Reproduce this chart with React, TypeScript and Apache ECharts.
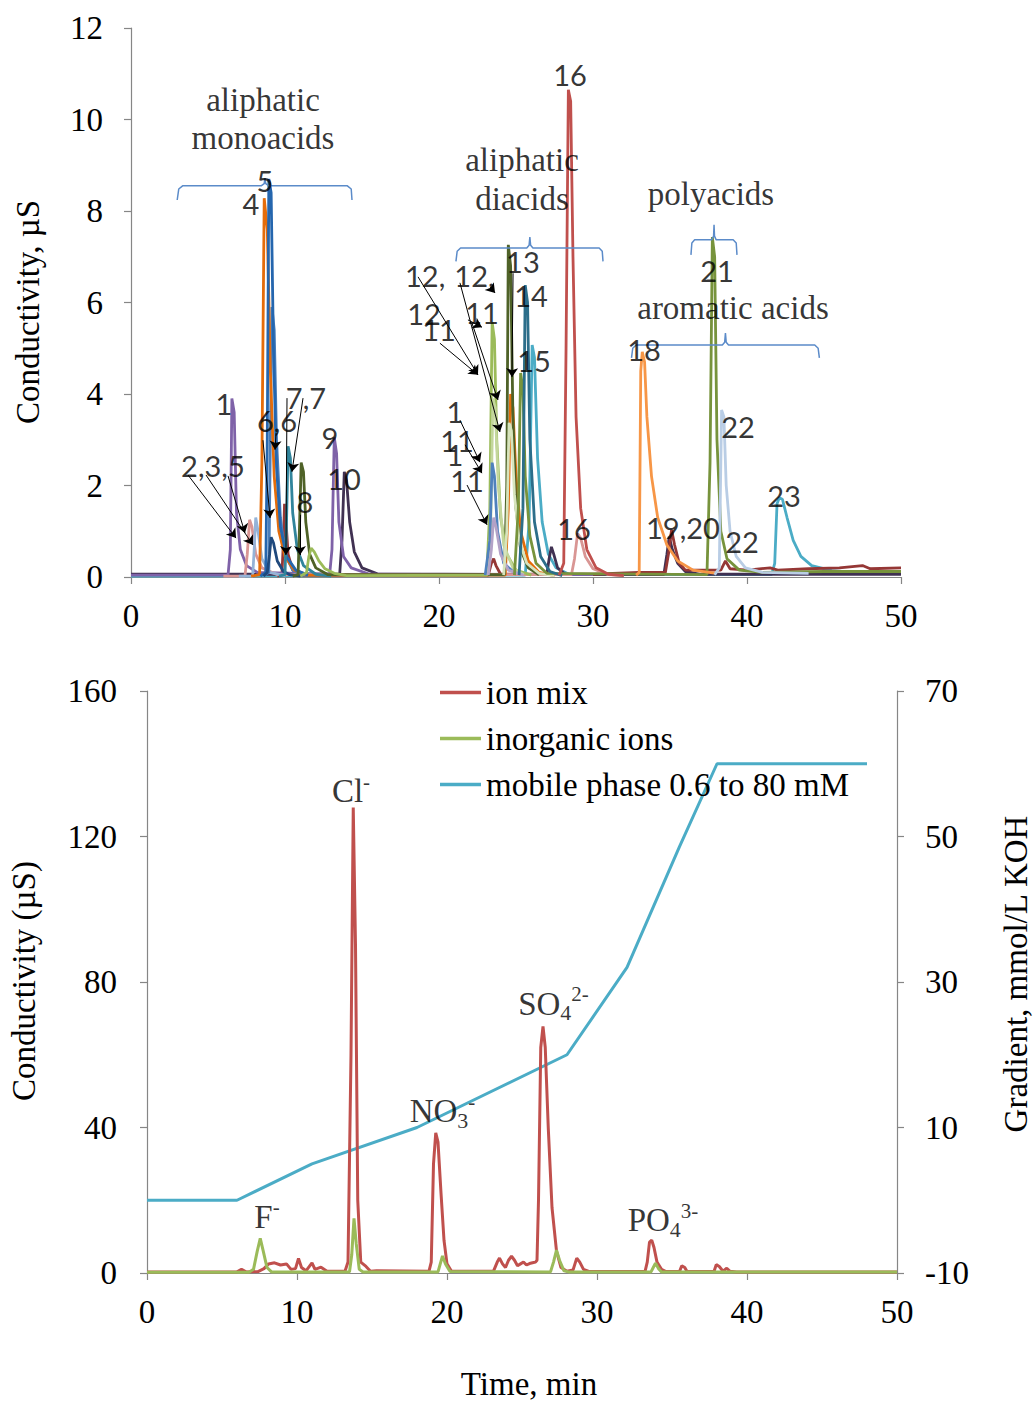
import React, { useEffect, useRef } from "react";
import * as echarts from "echarts";

const SERIF = "'Liberation Serif', 'Times New Roman', serif";
const SANS = "Lato, 'Liberation Sans', sans-serif";

// ---------- Top chart: chromatograms (time min, conductivity µS) ----------
const purpleTrace = [[0,0.04],[6.3,0.04],[6.45,0.6],[6.55,3.9],[6.7,3.6],[6.85,1.4],[7.1,0.6],[7.5,0.25],[8.2,0.1],[12.9,0.06],[13.05,0.6],[13.2,3.05],[13.35,2.7],[13.5,1.2],[13.8,0.45],[14.3,0.2],[15.5,0.06],[23,0.05],[30,0.05]];
const pinkTrace = [[6,0.02],[7.4,0.02],[7.55,0.5],[7.7,1.25],[7.85,1.1],[8.1,0.5],[8.5,0.2],[9.5,0.05],[28.6,0.05],[28.8,0.4],[29.0,0.95],[29.2,0.85],[29.5,0.45],[30,0.18],[31,0.05],[32,0.03]];
const lightBlueTrace = [[7,0.02],[7.9,0.02],[8.0,0.6],[8.1,1.3],[8.25,1.0],[8.5,0.4],[9,0.1],[10,0.03]];
const orangeTrace = [[7.8,0.02],[8.35,0.05],[8.5,2.5],[8.65,8.28],[8.85,7.6],[9.05,4.5],[9.3,2.2],[9.6,1.0],[10.0,0.45],[10.6,0.15],[11.5,0.04],[24.3,0.04],[24.5,1.5],[24.65,4.0],[24.8,3.7],[25.0,2.2],[25.3,1.0],[25.8,0.35],[26.5,0.1],[27.5,0.03]];
const blueTrace = [[8.4,0.02],[8.75,0.1],[8.85,3],[8.95,8.7],[9.1,8.4],[9.25,5],[9.45,2.4],[9.7,1.1],[10.1,0.45],[10.7,0.15],[11.5,0.04]];
const blue2Trace = [[8.6,0.02],[8.95,0.1],[9.05,3],[9.15,5.9],[9.3,5.4],[9.45,3],[9.7,1.3],[10.0,0.5],[10.5,0.15],[11.2,0.03]];
const navyTrace = [[8.6,0.02],[8.85,0.1],[9.0,0.5],[9.1,0.87],[9.25,0.75],[9.5,0.35],[9.9,0.12],[10.3,0.05],[11,0.02]];
const tealTrace = [[9.6,0.02],[10.0,0.05],[10.1,1.2],[10.2,2.86],[10.35,2.6],[10.5,1.4],[10.8,0.6],[11.2,0.25],[12,0.06],[13,0.02]];
const maroonTrace = [[9.5,0.02],[9.8,0.05],[9.9,0.8],[9.97,1.6],[10.05,1.3],[10.2,0.5],[10.5,0.15],[11,0.04],[23.2,0.04],[23.4,0.3],[23.55,0.4],[23.7,0.25],[24,0.06],[30,0.06],[33,0.1],[34.7,0.1],[34.9,0.5],[35.1,1.03],[35.3,0.7],[35.6,0.3],[36,0.15],[38.3,0.15],[38.6,0.35],[38.9,0.18],[40,0.15],[41.5,0.2],[42,0.15],[44,0.18],[46,0.2],[47.5,0.25],[48,0.18],[50,0.2]];
const oliveTrace = [[10.5,0.02],[10.85,0.05],[10.95,1.2],[11.05,2.5],[11.2,2.3],[11.35,1.2],[11.6,0.5],[12,0.2],[12.8,0.05],[24.25,0.05],[24.4,2],[24.5,7.26],[24.65,6.8],[24.8,3.5],[25.0,1.5],[25.3,0.6],[25.8,0.2],[26.5,0.05]];
const limeTrace = [[11,0.02],[11.4,0.1],[11.55,0.45],[11.7,0.63],[11.9,0.55],[12.2,0.35],[12.6,0.18],[13.2,0.08],[14,0.03],[23.1,0.04],[23.3,1.5],[23.45,5.57],[23.6,5.2],[23.75,3],[24,1.3],[24.4,0.5],[25,0.15],[26,0.04]];
const plumTrace = [[0,0.06],[13.55,0.06],[13.7,0.8],[13.85,2.3],[14.0,2.1],[14.2,1.2],[14.5,0.55],[15,0.2],[16,0.07],[27.0,0.05],[27.15,0.4],[27.3,0.66],[27.45,0.5],[27.7,0.2],[28.2,0.06],[34.6,0.05],[34.8,0.5],[34.95,0.88],[35.15,0.6],[35.5,0.3],[36,0.12],[37,0.06],[50,0.06]];
const grassTrace = [[24.9,0.04],[25.15,1.5],[25.3,4.46],[25.45,4.1],[25.6,2.2],[25.9,0.9],[26.3,0.3],[27,0.08],[37.4,0.05],[37.6,2.5],[37.75,7.43],[37.9,7.0],[38.05,3],[38.3,1.0],[38.7,0.4],[39.5,0.15],[41,0.1],[45,0.12],[50,0.12]];
const paleGreenTrace = [[23.1,0.04],[23.35,1],[23.5,3.9],[23.65,3.7],[23.85,2],[24.2,0.7],[24.8,0.2],[25.5,0.05]];
const steelTrace = [[23.0,0.04],[23.3,0.8],[23.45,2.5],[23.6,2.2],[23.8,1.0],[24.2,0.3],[25,0.06]];
const lavenderTrace = [[23.2,0.04],[23.4,0.6],[23.55,1.3],[23.7,1.1],[24,0.5],[24.5,0.15],[25.5,0.04]];
const creamTrace = [[24.2,0.04],[24.4,1],[24.55,3.37],[24.7,3.2],[24.9,1.8],[25.2,0.8],[25.7,0.3],[26.5,0.08],[27.5,0.03]];
const petrolTrace = [[25.2,0.04],[25.45,1.5],[25.6,6.38],[25.75,6.0],[25.9,3],[26.2,1.2],[26.6,0.45],[27.2,0.12],[28,0.03]];
const aquaTrace = [[0,0.02],[25.6,0.04],[25.85,1.2],[26.05,5.07],[26.2,4.8],[26.4,2.6],[26.7,1.2],[27.1,0.5],[27.6,0.2],[28.5,0.05],[41.6,0.05],[41.8,0.3],[41.95,1.6],[42.1,1.73],[42.3,1.7],[42.6,1.3],[43,0.8],[43.5,0.45],[44.2,0.25],[45.5,0.14],[47,0.1],[50,0.08]];
const redTrace = [[27.8,0.04],[28.1,0.3],[28.25,5],[28.4,10.65],[28.55,10.4],[28.7,7],[28.9,3.5],[29.2,1.5],[29.6,0.6],[30.2,0.2],[31,0.06],[32,0.03]];
const tangerineTrace = [[32.8,0.04],[33.0,0.1],[33.1,4.5],[33.2,4.92],[33.35,4.7],[33.5,3.5],[33.8,2.2],[34.2,1.3],[34.8,0.7],[35.5,0.35],[36.5,0.15],[38,0.08]];
const silverTrace = [[37.9,0.05],[38.2,0.2],[38.35,3.65],[38.5,3.5],[38.65,2],[38.9,1],[39.3,0.45],[39.9,0.2],[41,0.1],[44,0.08]];

const topTraces: [number[][], string][] = [
  [aquaTrace, "#4BACC6"], [plumTrace, "#403152"], [maroonTrace, "#953735"],
  [purpleTrace, "#7F62A8"], [pinkTrace, "#D99694"], [lightBlueTrace, "#95B3D7"],
  [blue2Trace, "#4A7EBB"], [orangeTrace, "#E46C0A"], [blueTrace, "#2566AE"],
  [navyTrace, "#1F497D"], [tealTrace, "#31859C"], [oliveTrace, "#4F6228"],
  [limeTrace, "#9BBB59"], [paleGreenTrace, "#C3D69B"], [steelTrace, "#4F81BD"],
  [lavenderTrace, "#B3A2C7"], [creamTrace, "#D7E4BD"], [grassTrace, "#77933C"],
  [petrolTrace, "#2C6E8A"], [redTrace, "#C0504D"], [tangerineTrace, "#F79646"],
  [silverTrace, "#B9CDE5"],
];

// Peak number labels [text, time, µS]
const peakLabels: [string, number, number][] = [
  ["16", 28.51, 10.99], ["5", 8.7, 8.66], ["4", 7.79, 8.17], ["13", 25.45, 6.89],
  ["21", 38.05, 6.71], ["12,", 19.1, 6.58], ["12,", 22.3, 6.58], ["14", 25.97, 6.16],
  ["11", 22.79, 5.79], ["12", 19.03, 5.77], ["11", 20.0, 5.4], ["15", 26.17, 4.74],
  ["18", 33.31, 4.98], ["22", 39.42, 3.28], ["1", 6.04, 3.8], ["7,7", 11.36, 3.93],
  ["6,6", 9.48, 3.41], ["9", 12.92, 3.06], ["1", 21.04, 3.61], ["11", 21.17, 2.99],
  ["1", 21.04, 2.67], ["11", 21.82, 2.12], ["2,3,5", 5.32, 2.43], ["10", 13.83, 2.16],
  ["23", 42.4, 1.79], ["8", 11.3, 1.64], ["16", 28.77, 1.07], ["19,20", 35.84, 1.09],
  ["22", 39.68, 0.77],
];

// Group labels
const groupLabels: [string, number, number][] = [
  ["aliphatic", 8.57, 10.43], ["monoacids", 8.57, 9.6], ["aliphatic", 25.39, 9.11],
  ["diacids", 25.39, 8.26], ["polyacids", 37.66, 8.37], ["aromatic acids", 39.09, 5.88],
];

// Arrows [t1, y1, t2, y2]
const arrows: number[][] = [
  [3.7, 2.23, 6.82, 0.85], [4.87, 2.23, 7.92, 0.7], [6.3, 2.21, 7.4, 0.96],
  [8.57, 2.99, 9.03, 1.29], [9.42, 3.15, 9.35, 2.78], [10.13, 3.91, 10.06, 0.48],
  [11.17, 3.91, 10.45, 2.3], [10.97, 1.36, 10.97, 0.48],
  [18.64, 6.56, 22.53, 4.42], [21.36, 6.43, 23.96, 3.17], [23.31, 6.34, 23.64, 6.21],
  [21.88, 5.62, 22.79, 5.46], [22.14, 5.55, 23.83, 3.87], [20.06, 5.11, 22.53, 4.42],
  [24.81, 6.64, 24.74, 4.37], [21.36, 3.43, 22.66, 2.51], [21.69, 2.89, 22.79, 2.27],
  [21.82, 2.01, 23.12, 1.14],
];

// Braces
const braceMono = [[3.0,8.24],[3.1,8.48],[3.35,8.55],[8.45,8.55],[8.65,8.6],[8.7,8.72],[8.75,8.6],[8.95,8.55],[14.05,8.55],[14.3,8.48],[14.35,8.24]];
const braceDi = [[21.1,6.9],[21.18,7.12],[21.4,7.19],[25.7,7.19],[25.85,7.25],[25.9,7.43],[25.95,7.25],[26.1,7.19],[30.4,7.19],[30.6,7.12],[30.65,6.9]];
const bracePoly = [[36.36,7.04],[36.42,7.3],[36.6,7.37],[37.7,7.37],[37.83,7.45],[37.86,7.7],[37.89,7.45],[38.0,7.37],[39.1,7.37],[39.3,7.3],[39.35,7.04]];
const braceArom = [[32.5,4.79],[32.58,5.0],[32.8,5.07],[38.4,5.07],[38.55,5.13],[38.6,5.33],[38.65,5.13],[38.8,5.07],[44.4,5.07],[44.62,5.0],[44.7,4.79]];

// ---------- Bottom chart ----------
const ionMix = [[0,0.3],[6,0.3],[6.3,1],[6.6,0.3],[7.4,0.4],[7.8,1.2],[8.1,2.5],[8.5,2.8],[8.9,2.2],[9.3,2.5],[9.6,1],[9.9,1.2],[10.1,4],[10.3,1.5],[10.6,0.6],[11.0,2.8],[11.2,1.0],[11.6,1.6],[12,0.5],[13.2,0.5],[13.4,3],[13.6,60],[13.75,128],[13.9,90],[14.05,20],[14.25,3],[14.6,1.8],[14.9,0.5],[15.3,0.6],[18.8,0.5],[18.95,3],[19.1,30],[19.25,38.5],[19.4,36],[19.6,22],[19.8,9],[20.0,2.5],[20.3,0.5],[23.1,0.5],[23.35,3],[23.5,4.1],[23.7,2.5],[23.9,1.5],[24.1,3.5],[24.3,4.6],[24.5,3.5],[24.7,2],[24.9,2.5],[25.1,3],[25.3,2.2],[25.5,2.6],[25.7,2.8],[25.9,3],[26.0,3.5],[26.1,20],[26.25,62],[26.4,67.8],[26.55,62],[26.75,40],[27.0,18],[27.3,6],[27.6,1.5],[28.0,0.5],[28.4,0.8],[28.65,4.1],[28.85,3],[29.1,1],[29.5,0.4],[33.2,0.4],[33.35,3],[33.5,8.5],[33.65,9],[33.8,7],[34.0,3],[34.3,1],[34.6,0.4],[35.5,0.4],[35.65,2],[35.85,1.5],[36.0,0.4],[37.8,0.4],[37.95,2.3],[38.15,1.8],[38.4,0.5],[38.65,1.3],[38.85,0.5],[39.3,0.3],[50,0.3]];
const inorganicIons = [[0,0.2],[6.8,0.2],[7.1,1],[7.35,6],[7.55,9.5],[7.75,6],[8.0,1.5],[8.3,0.3],[13.5,0.3],[13.65,5],[13.8,15],[13.95,8],[14.15,1],[14.4,0.3],[19.4,0.3],[19.55,2.5],[19.7,4.7],[19.9,2.5],[20.2,0.4],[26.9,0.3],[27.1,3],[27.3,6.3],[27.5,3.5],[27.8,0.6],[28.1,0.3],[33.6,0.3],[33.75,1.5],[33.9,2.7],[34.1,1.2],[34.3,0.3],[50,0.3]];
const mobilePhase = [[0,0],[6,0],[11,5],[18,10],[28,20],[32,32],[35.5,48.6],[38,60],[48,60]];

const ionLabels: [string, number, number][] = [
  ["{b|Cl}{sup|-}", 13.6, 132.5],
  ["{b|NO}{sub|3}{sup|-}", 19.7, 44.5],
  ["{b|SO}{sub|4}{sup|2-}", 27.1, 74],
  ["{b|F}{sup|-}", 8.0, 15.5],
  ["{b|PO}{sub|4}{sup|3-}", 34.4, 14.5],
];

const seriesNames = ["ion mix", "inorganic ions", "mobile phase 0.6 to 80 mM"];

function buildOption() {
  const axisLineStyle = { color: "#868686", width: 1.2 };
  const labelBase = { fontFamily: SERIF, fontSize: 33, color: "#000" };

  const series: any[] = [];
  topTraces.forEach(([data, color], i) => {
    series.push({
      type: "line", xAxisIndex: 0, yAxisIndex: 0, data, symbol: "none",
      lineStyle: { color, width: 2.8 }, itemStyle: { color }, silent: true, z: 2 + i * 0.01,
      name: "top" + i,
    });
  });
  [braceMono, braceDi, bracePoly, braceArom].forEach((b, i) => {
    series.push({
      type: "line", xAxisIndex: 0, yAxisIndex: 0, data: b, symbol: "none", silent: true,
      lineStyle: { color: "#5B8BC9", width: 1.5 }, z: 3, name: "brace" + i,
    });
  });
  series.push({
    type: "line", xAxisIndex: 0, yAxisIndex: 0, data: [], symbol: "none", silent: true, z: 5,
    name: "arrows",
    markLine: {
      silent: true, symbol: ["none", "arrow"], symbolSize: 9,
      lineStyle: { color: "#000", width: 1, type: "solid" }, label: { show: false },
      data: arrows.map((a) => [{ coord: [a[0], a[1]] }, { coord: [a[2], a[3]] }]),
    },
  });
  series.push({
    type: "scatter", xAxisIndex: 0, yAxisIndex: 0, symbolSize: 0, silent: true, z: 6,
    name: "peakLabels",
    data: peakLabels.map(([t, x, y]) => ({ name: t, value: [x, y] })),
    label: { show: true, position: "inside", formatter: (p: any) => p.name, fontFamily: SANS, fontSize: 29, color: "#000" },
  });
  series.push({
    type: "scatter", xAxisIndex: 0, yAxisIndex: 0, symbolSize: 0, silent: true, z: 6,
    name: "groupLabels",
    data: groupLabels.map(([t, x, y]) => ({ name: t, value: [x, y] })),
    label: { show: true, position: "inside", formatter: (p: any) => p.name, ...labelBase },
  });

  // bottom
  series.push({
    name: seriesNames[2], type: "line", xAxisIndex: 1, yAxisIndex: 2, data: mobilePhase, symbol: "none",
    lineStyle: { color: "#4BACC6", width: 3 }, itemStyle: { color: "#4BACC6" }, z: 2,
  });
  series.push({
    name: seriesNames[0], type: "line", xAxisIndex: 1, yAxisIndex: 1, data: ionMix, symbol: "none",
    lineStyle: { color: "#C0504D", width: 3 }, itemStyle: { color: "#C0504D" }, z: 3,
  });
  series.push({
    name: seriesNames[1], type: "line", xAxisIndex: 1, yAxisIndex: 1, data: inorganicIons, symbol: "none",
    lineStyle: { color: "#9BBB59", width: 3 }, itemStyle: { color: "#9BBB59" }, z: 4,
  });
  series.push({
    type: "scatter", xAxisIndex: 1, yAxisIndex: 1, symbolSize: 0, silent: true, z: 6, name: "ionLabels",
    data: ionLabels.map(([t, x, y]) => ({ name: t, value: [x, y] })),
    label: {
      show: true, position: "inside", formatter: (p: any) => p.name,
      rich: {
        b: { fontFamily: SERIF, fontSize: 33, color: "#000", lineHeight: 40, verticalAlign: "middle" },
        sup: { fontFamily: SERIF, fontSize: 21, color: "#000", lineHeight: 27, verticalAlign: "top" },
        sub: { fontFamily: SERIF, fontSize: 22, color: "#000", lineHeight: 21, verticalAlign: "bottom" },
      },
    },
  });

  const xCommon = (gridIndex: number, margin: number) => ({
    type: "value", gridIndex, min: 0, max: 50, interval: 10,
    axisLine: { show: true, onZero: false, lineStyle: axisLineStyle },
    axisTick: { show: true, inside: false, length: 7, lineStyle: axisLineStyle },
    splitLine: { show: false },
    axisLabel: { ...labelBase, margin },
  });

  return {
    animation: false,
    backgroundColor: "#fff",
    grid: [
      { left: 131, top: 28, width: 770, height: 549 },
      { left: 147, top: 691, width: 750, height: 582 },
    ],
    xAxis: [xCommon(0, 22), xCommon(1, 22)],
    yAxis: [
      {
        type: "value", gridIndex: 0, min: 0, max: 12, interval: 2,
        axisLine: { show: true, onZero: false, lineStyle: axisLineStyle },
        axisTick: { show: true, length: 7, lineStyle: axisLineStyle },
        splitLine: { show: false }, axisLabel: { ...labelBase, margin: 28 },
      },
      {
        type: "value", gridIndex: 1, min: 0, max: 160, interval: 40,
        axisLine: { show: true, onZero: false, lineStyle: axisLineStyle },
        axisTick: { show: true, length: 7, lineStyle: axisLineStyle },
        splitLine: { show: false }, axisLabel: { ...labelBase, margin: 30 },
      },
      {
        type: "value", gridIndex: 1, position: "right", min: -10, max: 70, interval: 20,
        axisLine: { show: true, onZero: false, lineStyle: axisLineStyle },
        axisTick: { show: true, length: 7, lineStyle: axisLineStyle },
        splitLine: { show: false }, axisLabel: { ...labelBase, margin: 28 },
      },
    ],
    legend: {
      data: seriesNames.map((n) => ({ name: n, icon: "rect" })),
      orient: "vertical", left: 440, top: 674, padding: 0, itemWidth: 41, itemHeight: 3.5,
      itemGap: 9, selectedMode: false,
      textStyle: { fontFamily: SERIF, fontSize: 33, color: "#000", lineHeight: 37 },
    },
    graphic: [
      { type: "text", x: 28, y: 312, rotation: Math.PI / 2,
        style: { text: "Conductivity, µS", fontFamily: SERIF, fontSize: 33, fill: "#000", align: "center", verticalAlign: "middle" } },
      { type: "text", x: 24, y: 981, rotation: Math.PI / 2,
        style: { text: "Conductivity (µS)", fontFamily: SERIF, fontSize: 33, fill: "#000", align: "center", verticalAlign: "middle" } },
      { type: "text", x: 1016, y: 974, rotation: Math.PI / 2,
        style: { text: "Gradient, mmol/L KOH", fontFamily: SERIF, fontSize: 33, fill: "#000", align: "center", verticalAlign: "middle" } },
      { type: "text", x: 529, y: 1384,
        style: { text: "Time, min", fontFamily: SERIF, fontSize: 33, fill: "#000", align: "center", verticalAlign: "middle" } },
    ],
    series,
  };
}

export default function App() {
  const ref = useRef<HTMLDivElement>(null);
  useEffect(() => {
    if (!ref.current) return;
    const chart = echarts.init(ref.current, null, { renderer: "svg" });
    chart.setOption(buildOption() as any);
    return () => chart.dispose();
  }, []);
  return (
    <div
      ref={ref}
      style={{ position: "absolute", left: 0, top: 0, width: 1034, height: 1401, background: "#fff" }}
    />
  );
}
